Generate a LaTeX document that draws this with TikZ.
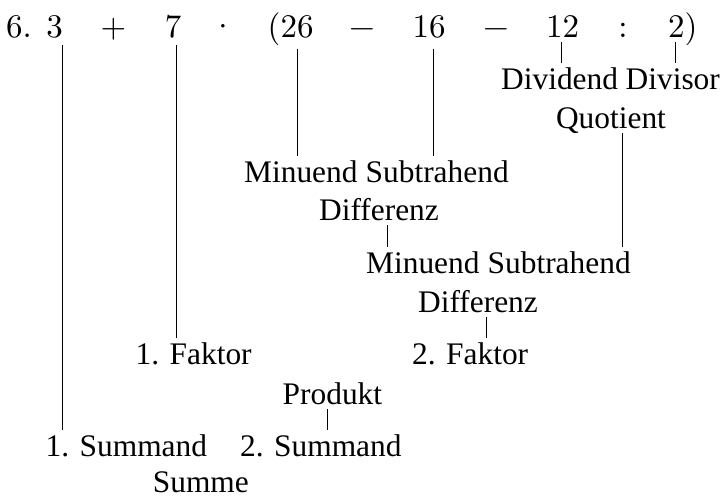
\documentclass[tikz,border=0pt]{standalone}
\usepackage{fontspec}
\newfontfamily\tms{Liberation Serif}
\newfontfamily\lmten{lmroman10-regular}[Extension=.otf]
\begin{document}
\begin{tikzpicture}[x=1pt,y=-1pt,
  mth/.style={inner sep=0pt, font=\lmten\fontsize{33}{40}\selectfont},
  lbl/.style={inner xsep=0pt, inner ysep=5pt, text height=21pt, text depth=0pt,
              font=\tms\fontsize{31.4}{38}\selectfont},
  conn/.style={line width=0.9pt, black}]
\path[use as bounding box] (0,0) rectangle (724,498);

% top row
\node[mth,anchor=base west] (six) at (6,37) {6.};
\node[mth,anchor=base] (n3)  at (54.5,37) {3};
\node[mth,anchor=base] (pl)  at (113.5,37) {+};
\node[mth,anchor=base] (n7)  at (173,37) {7};
\node[mth,anchor=base] (dot) at (223,37) {·};
\node[mth,anchor=base west] (n26) at (267.5,37) {(26};
\node[mth,anchor=base] (mi1) at (362,37) {−};
\node[mth,anchor=base] (n16) at (429,37) {16};
\node[mth,anchor=base] (mi2) at (496,37) {−};
\node[mth,anchor=base] (n12) at (562.5,37) {12};
\node[mth,anchor=base] (col) at (623,37) {:};
\node[mth,anchor=base west] (n2) at (668,37) {2)};

% labels
\node[lbl,anchor=base west] (dvd) at (501,89) {Dividend};
\node[lbl,anchor=base west] (dvs) at (625.5,89) {Divisor};
\node[lbl,anchor=base] (quo) at (611,128) {Quotient};
\node[lbl,anchor=base west] (minA) at (244,182) {Minuend};
\node[lbl,anchor=base west] (subA) at (365.5,182) {Subtrahend};
\node[lbl,anchor=base] (difA) at (379,220) {Differenz};
\node[lbl,anchor=base west] (minB) at (366,273) {Minuend};
\node[lbl,anchor=base west] (subB) at (487.5,273) {Subtrahend};
\node[lbl,anchor=base] (difB) at (478,312) {Differenz};
\node[lbl,anchor=base west] (fak1) at (135.5,364) {1. Faktor};
\node[lbl,anchor=base west] (fak2) at (412,364) {2. Faktor};
\node[lbl,anchor=base west] (prod) at (282.5,404) {Produkt};
\node[lbl,anchor=base west] (sum1) at (45.5,456) {1. Summand};
\node[lbl,anchor=base west] (sum2) at (240,456) {2. Summand};
\node[lbl,anchor=base west,inner ysep=0pt] (summe) at (152.7,492) {Summe};

% connector x positions
\coordinate (x3) at (62,0);
\coordinate (x7) at (176,0);
\coordinate (x26) at (297,0);
\coordinate (x16) at (433,0);
\coordinate (x12) at (561,0);
\coordinate (x2) at (675,0);
\coordinate (xq) at (622,0);
\coordinate (xdA) at (387,0);
\coordinate (xdB) at (486,0);
\coordinate (xp) at (327,0);

% connectors
\draw[conn,shorten <=8pt] (n3.base -| x3) -- (sum1.north -| x3);
\draw[conn,shorten <=8pt] (n7.base -| x7) -- (fak1.north -| x7);
\draw[conn,shorten <=11.5pt] (n26.base -| x26) -- (minA.north -| x26);
\draw[conn,shorten <=11.5pt] (n16.base -| x16) -- (subA.north -| x16);
\draw[conn,shorten <=5pt] (n12.base -| x12) -- (dvd.north -| x12);
\draw[conn,shorten <=5pt] (n2.base -| x2) -- (dvs.north -| x2);
\draw[conn] (quo.south -| xq) -- (subB.north -| xq);
\draw[conn] (difA.south -| xdA) -- (minB.north -| xdA);
\draw[conn] (difB.south -| xdB) -- (fak2.north -| xdB);
\draw[conn] (prod.south -| xp) -- (sum2.north -| xp);
\end{tikzpicture}
\end{document}
